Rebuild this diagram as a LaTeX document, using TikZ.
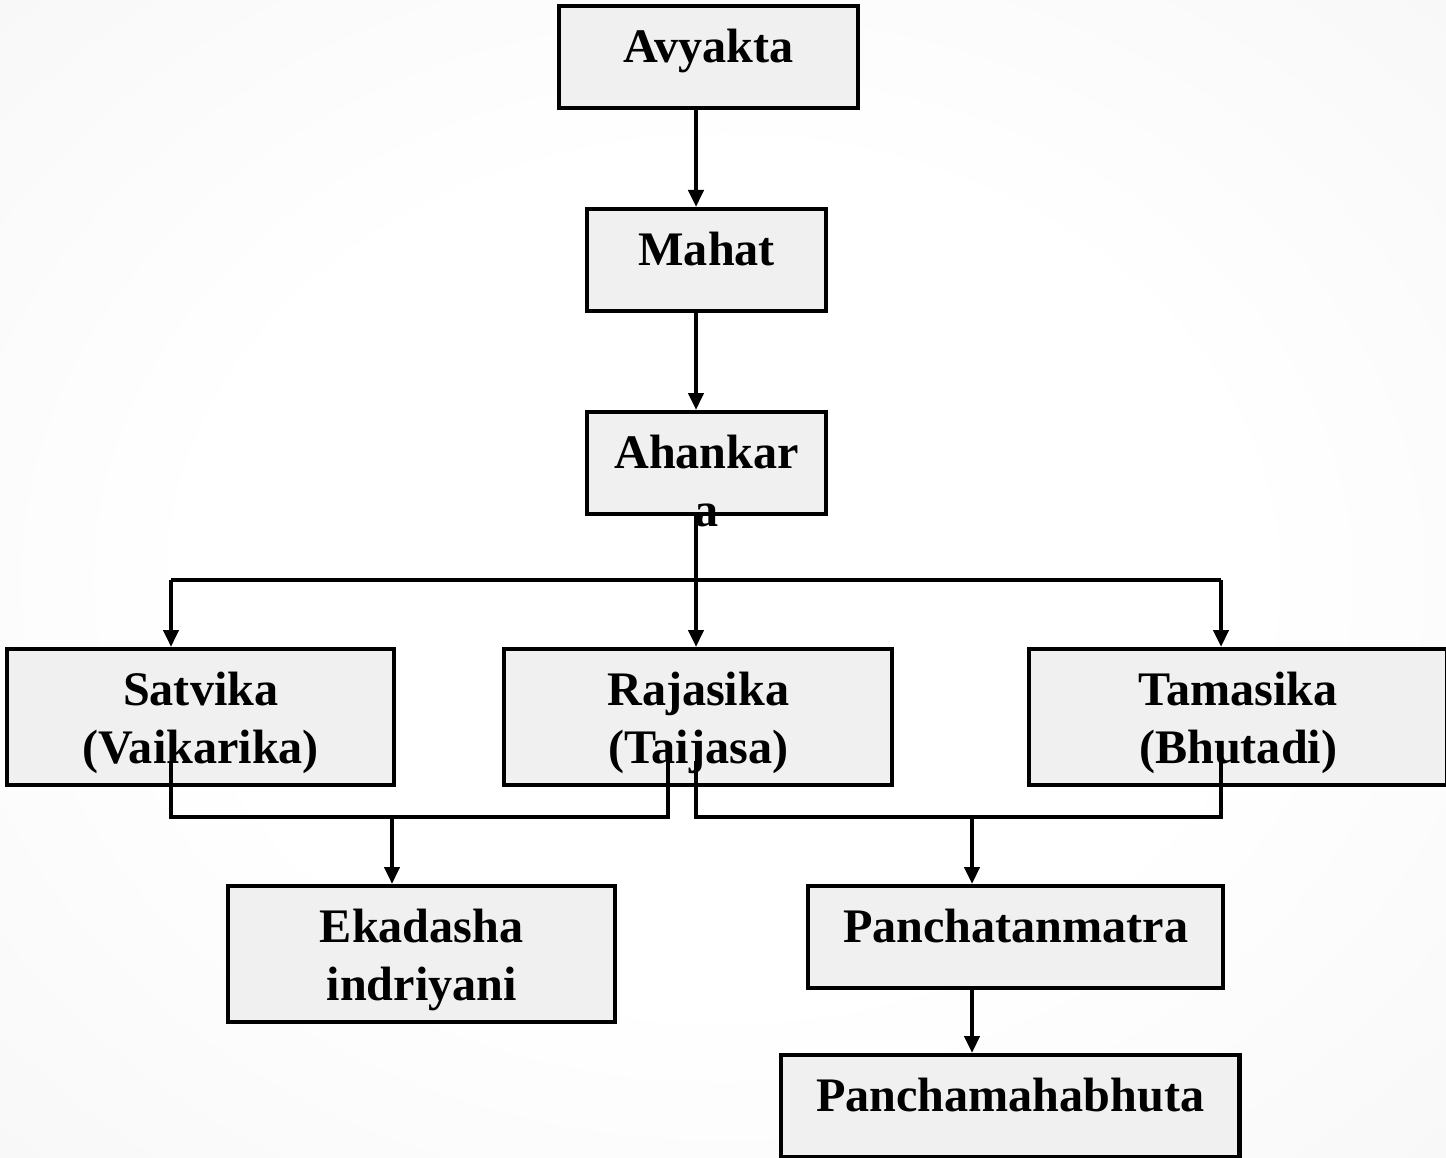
\documentclass[tikz,border=0pt]{standalone}
\usepackage{fontspec}
\setmainfont{Liberation Serif}
\usetikzlibrary{arrows.meta,calc}
\pgfdeclareradialshading{slide}{\pgfpoint{0bp}{0bp}}{color(0bp)=(white); color(18bp)=(white);
  color(50bp)=(black!5); color(72bp)=(black!7)}
\tikzset{stage/.style={draw=black, line width=1.2pt, fill=black!6, inner sep=0pt,
  align=center, anchor=north west,
  font=\bfseries\fontsize{13.7}{16.5}\selectfont}}
% text is hung from the top of the box; the baseline is that of the last line
\tikzset{oneline/.style={stage, text height=0.56cm, text depth=0.46cm, minimum height=1.02cm}}
\tikzset{twoline/.style={stage, text height=1.14cm, text depth=0.22cm, minimum height=1.36cm}}
\tikzset{conn/.style={draw, line width=1.2pt, -{Triangle[length=0.17cm,width=0.15cm]}}}
\tikzset{link/.style={draw, line width=1.2pt}}
\newcommand{\tattva}[4]{node (#1) [#2, minimum width=#3cm] {#4}}

\begin{document}
\begin{tikzpicture}[x=0.01cm, y=-0.01cm]

  % background
  \useasboundingbox (0,0) rectangle (1446,1157);
  \shade[shading=slide] (0,0) rectangle (1446,1157);

  % evolution chain
  \path (557,4) \tattva{avyakta}{oneline}{2.99}{Avyakta};
  \path (585,207) \tattva{mahat}{oneline}{2.39}{Mahat};
  \path (585,410) \tattva{ahank}{oneline}{2.39}{\begin{tabular}[t]{@{}c@{}}Ahankar\\a\end{tabular}};

  \path (5,647) \tattva{satv}{twoline}{3.87}{Satvika\\(Vaikarika)};
  \path (502,647) \tattva{rajas}{twoline}{3.88}{Rajasika\\(Taijasa)};
  \path (1027,647) \tattva{tamas}{twoline}{4.18}{Tamasika\\(Bhutadi)};

  \path (226,884) \tattva{ekad}{twoline}{3.87}{Ekadasha\\indriyani};
  \path (806,884) \tattva{ptan}{oneline}{4.15}{Panchatanmatra};
  \path (779,1053) \tattva{pmaha}{oneline}{4.58}{Panchamahabhuta};

  % connector columns and rows
  \coordinate (xs) at (171,0);
  \coordinate (xe) at (392,0);
  \coordinate (xrl) at (668,0);
  \coordinate (xr) at (696,0);
  \coordinate (xp) at (972,0);
  \coordinate (xt) at (1221,0);
  \coordinate (bar) at (0,580);
  \coordinate (low) at (0,817);

  % arrows down the chain
  \path [conn] (avyakta.south -| xr) -- (mahat.north -| xr);
  \path [conn] (mahat.south -| xr) -- (ahank.north -| xr);
  \path [conn] (ahank.south -| xr) -- (rajas.north -| xr);
  \path [link] (bar -| xs) -- (bar -| xt);
  \path [conn] (bar -| xs) -- (satv.north -| xs);
  \path [conn] (bar -| xt) -- (tamas.north -| xt);

  % joining the gunas
  \path [link] ($(satv.south -| xs)+(0,-26)$) |- (low -| xrl) -- ($(rajas.south -| xrl)+(0,-26)$);
  \path [link] ($(rajas.south -| xr)+(0,-26)$) |- (low -| xt) -- ($(tamas.south -| xt)+(0,-26)$);
  \path [conn] (low -| xe) -- (ekad.north -| xe);
  \path [conn] (low -| xp) -- (ptan.north -| xp);
  \path [conn] (ptan.south -| xp) -- (pmaha.north -| xp);

\end{tikzpicture}
\end{document}
